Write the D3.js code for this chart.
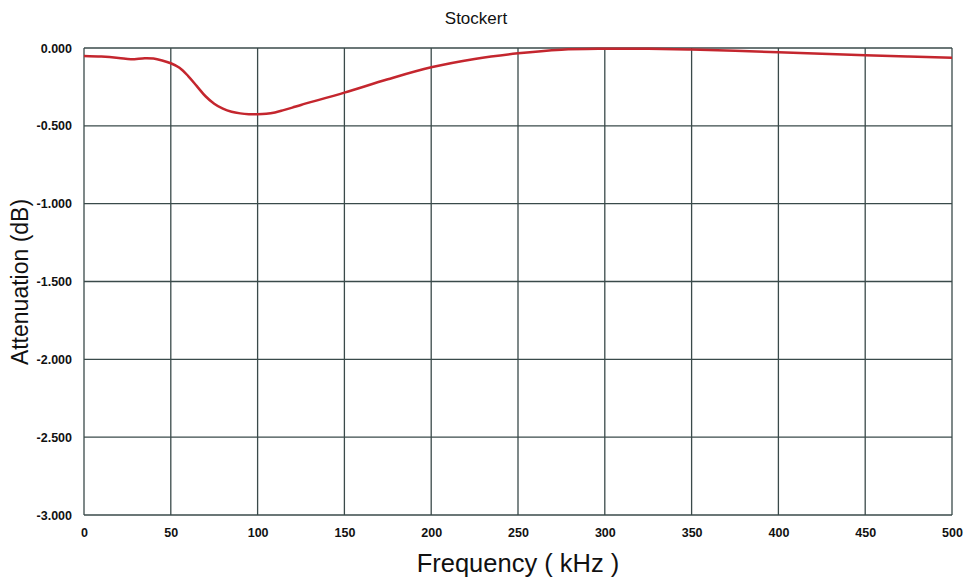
<!DOCTYPE html>
<html><head><meta charset="utf-8">
<script src="https://cdn.jsdelivr.net/npm/d3@7"></script>
<style>body{margin:0;background:#fff;font-family:"Liberation Sans",Arial,sans-serif;}</style>
</head><body><svg id="c" width="964" height="578"></svg>
<script>
const freq = [0,10,20,27,35,40,45,50,55,60,65,70,75,80,85,90,95,100,105,110,115,120,125,150,175,200,225,250,275,300,325,350,375,400,425,450,475,500];
const atten = [-0.051,-0.055,-0.064,-0.073,-0.066,-0.068,-0.08,-0.098,-0.127,-0.18,-0.245,-0.31,-0.358,-0.39,-0.41,-0.42,-0.425,-0.426,-0.423,-0.414,-0.399,-0.383,-0.366,-0.287,-0.201,-0.124,-0.07,-0.034,-0.011,-0.005,-0.005,-0.01,-0.018,-0.028,-0.037,-0.047,-0.055,-0.062];
const xTicks = [0,50,100,150,200,250,300,350,400,450,500];
const yTicks = [0,-0.5,-1,-1.5,-2,-2.5,-3];
const title = "Stockert", xTitle = "Frequency ( kHz )", yTitle = "Attenuation (dB)";

const svg = d3.select("#c");
const m = {l:84, r:952, t:48, b:515};
const x = d3.scaleLinear().domain([0,500]).range([m.l,m.r]);
const y = d3.scaleLinear().domain([-3,0]).range([m.b,m.t]);
const gridColor = "#3a4a4a";

// grid
svg.append("g").selectAll("line").data(xTicks).join("line")
  .attr("x1",d=>x(d)).attr("x2",d=>x(d)).attr("y1",m.t).attr("y2",m.b)
  .attr("stroke",gridColor).attr("stroke-width",1.3);
svg.append("g").selectAll("line").data(yTicks).join("line")
  .attr("x1",m.l).attr("x2",m.r).attr("y1",d=>y(d)).attr("y2",d=>y(d))
  .attr("stroke",gridColor).attr("stroke-width",1.3);

// axes labels
const xa = svg.append("g").attr("transform",`translate(0,${m.b})`)
  .call(d3.axisBottom(x).tickValues(xTicks).tickSize(0).tickPadding(13).tickFormat(d3.format("d")));
xa.select(".domain").remove();
xa.selectAll("text").attr("font-family","Liberation Sans, Arial, sans-serif").attr("font-size",12.5).attr("font-weight","bold").attr("fill","#111");
const ya = svg.append("g").attr("transform",`translate(${m.l},0)`)
  .call(d3.axisLeft(y).tickValues(yTicks).tickSize(0).tickPadding(12).tickFormat(d3.format(".3f")));
ya.select(".domain").remove();
ya.selectAll("text").attr("font-family","Liberation Sans, Arial, sans-serif").attr("font-size",12.5).attr("font-weight","bold").attr("fill","#111")
  .text(d=> d===0 ? "0.000" : d3.format(".3f")(d).replace("−","-"));

// line
const data = freq.map((f,i)=>({f, a:atten[i]}));
svg.append("path").datum(data)
  .attr("d", d3.line().x(d=>x(d.f)).y(d=>y(d.a)).curve(d3.curveCatmullRom.alpha(0.5)))
  .attr("fill","none").attr("stroke","#c4262e").attr("stroke-width",2.5);

// titles
svg.append("text").attr("x",476).attr("y",24).attr("text-anchor","middle")
  .attr("font-size",17).attr("fill","#111").text(title);
svg.append("text").attr("x",518).attr("y",572).attr("text-anchor","middle")
  .attr("font-size",25.5).attr("fill","#111").text(xTitle);
svg.append("text").attr("transform","translate(28,282) rotate(-90)").attr("text-anchor","middle")
  .attr("font-size",23).attr("fill","#111").text(yTitle);
</script></body></html>
